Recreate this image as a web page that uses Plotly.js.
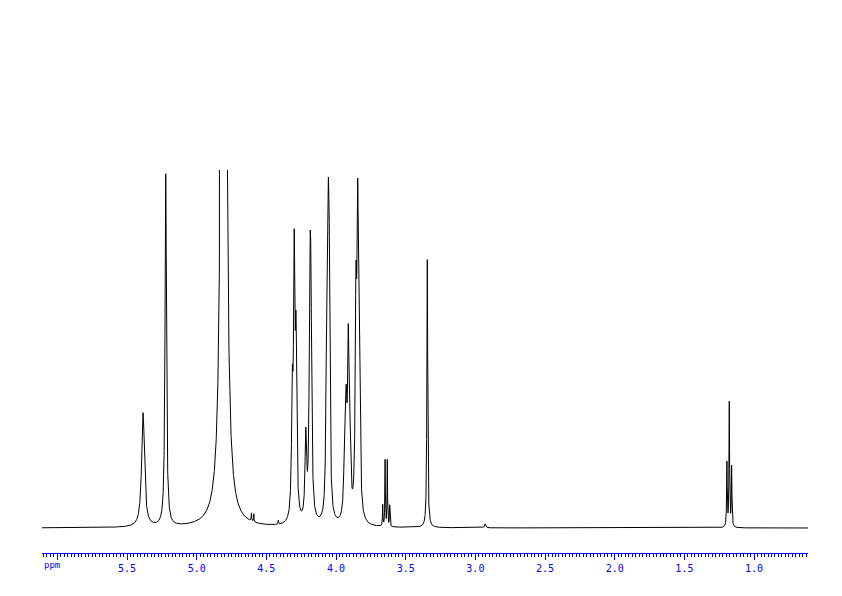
<!DOCTYPE html>
<html>
<head>
<meta charset="utf-8">
<script src="https://cdn.plot.ly/plotly-3.0.1.min.js"></script>
<style>
html,body{margin:0;padding:0;background:#fff;}
#chart{width:842px;height:596px;}
</style>
</head>
<body>
<div id="chart"></div>
<script>
// Peak list (chemical shift in ppm, height, line width in ppm)
const peakPpm    = [5.385, 5.222, 4.806, 4.607, 4.590, 4.414,
                    4.314, 4.300, 4.287,
                    4.217, 4.187, 4.180,
                    4.068, 4.056, 4.049,
                    3.937, 3.927, 3.912, 3.900,
                    3.857, 3.845, 3.835,
                    3.665, 3.648, 3.632, 3.615,
                    3.345, 2.930,
                    1.195, 1.178, 1.161];
const peakHeight = [114, 352, 8700, 8, 8, 4,
                    112, 250, 163,
                    82, 200, 172,
                    133, 230, 201,
                    80, 85, 165, 60,
                    194, 250, 214,
                    21, 66, 66, 21,
                    268, 4,
                    64, 124, 60];
const peakWidth  = [0.024, 0.012, 0.0109, 0.004, 0.004, 0.004,
                    0.012, 0.012, 0.012,
                    0.013, 0.013, 0.013,
                    0.012, 0.012, 0.012,
                    0.013, 0.013, 0.013, 0.013,
                    0.012, 0.012, 0.012,
                    0.004, 0.004, 0.004, 0.004,
                    0.007, 0.010,
                    0.005, 0.005, 0.005];
const ppmStart = 6.11, ppmEnd = 0.613, ppmStep = 0.0005;
const tickValues = [6.0, 5.5, 5.0, 4.5, 4.0, 3.5, 3.0, 2.5, 2.0, 1.5, 1.0];
const tickLabels = ["", "5.5", "5.0", "4.5", "4.0", "3.5", "3.0", "2.5", "2.0", "1.5", "1.0"];

// Build the spectrum trace from the peak list (Lorentzian line shapes)
const xs = [], ys = [];
for (let p = ppmStart; p >= ppmEnd; p -= ppmStep) {
  let s = 0;
  for (let i = 0; i < peakPpm.length; i++) {
    const d = 2 * (p - peakPpm[i]) / peakWidth[i];
    s += peakHeight[i] / (1 + d * d);
  }
  xs.push(p); ys.push(s);
}

const blue = '#0000ff';
const trace = {
  x: xs, y: ys, type: 'scatter', mode: 'lines',
  line: {color: '#000000', width: 1}, hoverinfo: 'skip'
};
const layout = {
  width: 842, height: 596,
  margin: {l: 42, r: 34, t: 170, b: 43},
  paper_bgcolor: '#ffffff', plot_bgcolor: '#ffffff',
  showlegend: false,
  xaxis: {
    range: [ppmStart, ppmEnd], autorange: false,
    showgrid: false, zeroline: false,
    showline: true, linecolor: blue, linewidth: 1,
    ticks: 'outside', ticklen: 6, tickwidth: 1, tickcolor: blue,
    tickmode: 'array', tickvals: tickValues, ticktext: tickLabels,
    tickfont: {family: 'DejaVu Sans Mono', size: 10, color: blue},
    minor: {dtick: 0.025, tick0: 0, ticks: 'outside', ticklen: 3, tickcolor: blue, tickwidth: 1, showgrid: false}
  },
  yaxis: {
    range: [-25, 358], autorange: false,
    visible: false, showgrid: false, zeroline: false
  },
  annotations: [{
    text: 'ppm', xref: 'paper', yref: 'paper', x: 0, y: -0.031,
    xanchor: 'left', yanchor: 'middle', showarrow: false,
    font: {family: 'DejaVu Sans Mono', size: 9, color: blue}
  }]
};
Plotly.newPlot('chart', [trace], layout, {displayModeBar: false, staticPlot: true});
</script>
</body>
</html>
